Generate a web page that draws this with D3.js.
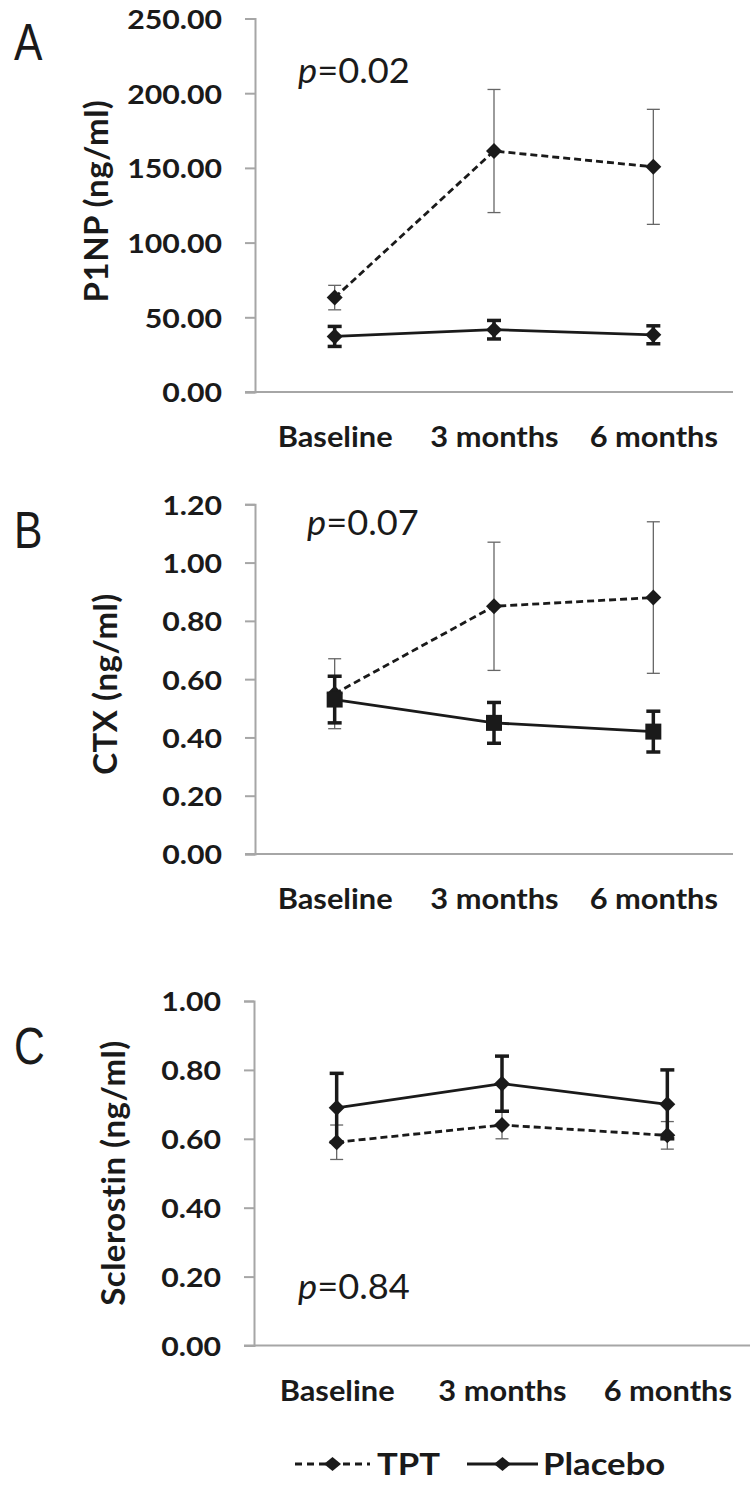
<!DOCTYPE html>
<html><head><meta charset="utf-8">
<script src="https://cdn.jsdelivr.net/npm/d3@7"></script>
<style>body{margin:0;background:#fff}svg{display:block}</style>
</head><body><svg id="c" width="750" height="1485"></svg>
<script>
// ---------- data ----------
const categories = ["Baseline", "3 months", "6 months"];
const seriesNames = ["TPT", "Placebo"];

const p1npTPT = [63.2, 161.3, 150.7];
const p1npTPTErr = [8.2, 41.2, 38.5];
const p1npPlacebo = [37.2, 41.7, 38.3];
const p1npPlaceboErr = [6.7, 6.2, 6.0];
const p1npTicks = [0, 50, 100, 150, 200, 250];

const ctxTPT = [0.55, 0.85, 0.88];
const ctxTPTErr = [0.12, 0.22, 0.26];
const ctxPlacebo = [0.53, 0.45, 0.42];
const ctxPlaceboErr = [0.08, 0.07, 0.07];
const ctxTicks = [0, 0.2, 0.4, 0.6, 0.8, 1.0, 1.2];

const sclTPT = [0.59, 0.64, 0.61];
const sclTPTErr = [0.05, 0.04, 0.04];
const sclPlacebo = [0.69, 0.76, 0.70];
const sclPlaceboErr = [0.10, 0.08, 0.10];
const sclTicks = [0, 0.2, 0.4, 0.6, 0.8, 1.0];

const pValues = ["0.02", "0.07", "0.84"];
const panelLetters = ["A", "B", "C"];
const yTitles = ["P1NP (ng/ml)", "CTX (ng/ml)", "Sclerostin (ng/ml)"];

// ---------- layout ----------
const svg = d3.select("#c");
svg.append("rect").attr("width", 750).attr("height", 1485).attr("fill", "#fff");

const INK = "#1a1a1a";
const panels = [
  {tpt: p1npTPT, tptE: p1npTPTErr, pla: p1npPlacebo, plaE: p1npPlaceboErr, ticks: p1npTicks,
   x0: 255, x1: 733, yTop: 18.5, yBot: 392, placeboShape: "diamond",
   letter: {x: 14, y: 60}, p: {x: 298, y: 83}, title: {x: 108, y: 201}},
  {tpt: ctxTPT, tptE: ctxTPTErr, pla: ctxPlacebo, plaE: ctxPlaceboErr, ticks: ctxTicks,
   x0: 255, x1: 733, yTop: 504.3, yBot: 854, placeboShape: "square",
   letter: {x: 14, y: 548}, p: {x: 307, y: 535}, title: {x: 117, y: 684}},
  {tpt: sclTPT, tptE: sclTPTErr, pla: sclPlacebo, plaE: sclPlaceboErr, ticks: sclTicks,
   x0: 254, x1: 750, yTop: 1001, yBot: 1345.5, placeboShape: "diamond",
   letter: {x: 14, y: 1064}, p: {x: 298, y: 1299}, title: {x: 125, y: 1173}}
];

function diamondPath(cx, cy, w, h) {
  return `M${cx},${cy - h / 2}L${cx + w / 2},${cy}L${cx},${cy + h / 2}L${cx - w / 2},${cy}Z`;
}

panels.forEach((P, i) => {
  const g = svg.append("g");
  const x = d3.scalePoint().domain(categories).range([P.x0, P.x1]).padding(0.5);
  const y = d3.scaleLinear().domain([0, d3.max(P.ticks)]).range([P.yBot, P.yTop]);

  // y axis
  const TS = 1.1;
  const yAx = g.append("g").attr("transform", `translate(${P.x0},0)`)
    .call(d3.axisLeft(y).tickValues(P.ticks).tickFormat(d3.format(".2f")).tickSize(10).tickPadding(0));
  yAx.select(".domain").attr("stroke", "#a6a6a6").attr("stroke-width", 2);
  yAx.selectAll(".tick line").attr("stroke", "#a6a6a6").attr("stroke-width", 2);
  yAx.selectAll(".tick text")
    .attr("x", -33 / TS).attr("dy", "0.36em")
    .attr("transform", `scale(${TS},1)`)
    .attr("font-family", "Lato").attr("font-weight", 700).attr("font-size", 27.5)
    .attr("fill", INK);

  // x axis
  const CS = 1.08;
  const xAx = g.append("g").attr("transform", `translate(0,${P.yBot})`)
    .call(d3.axisBottom(x).tickSize(0).tickPadding(0));
  xAx.select(".domain").attr("stroke", "#a6a6a6").attr("stroke-width", 2)
    .attr("d", `M${P.x0 - 10},0H${P.x1}`);
  xAx.selectAll(".tick text")
    .attr("y", 0).attr("dy", 0)
    .attr("transform", `translate(0,55) scale(${CS},1)`)
    .attr("font-family", "Lato").attr("font-weight", 700).attr("font-size", 28.5)
    .attr("fill", INK);

  // y title
  g.append("text")
    .attr("transform", `translate(${P.title.x},${P.title.y}) rotate(-90)`)
    .attr("text-anchor", "middle")
    .attr("font-family", "Lato").attr("font-weight", 700).attr("font-size", 33)
    .attr("letter-spacing", 0.5)
    .attr("fill", INK)
    .text(yTitles[i]);

  // panel letter
  g.append("text").attr("transform", `translate(${P.letter.x},${P.letter.y}) scale(0.82,1)`)
    .attr("font-family", "Liberation Sans").attr("font-size", 52).attr("fill", INK)
    .text(panelLetters[i]);

  // p value
  const pt = g.append("text").attr("transform", `translate(${P.p.x},${P.p.y}) scale(1.05,1)`)
    .attr("font-family", "Lato").attr("font-size", 34.5).attr("fill", INK);
  pt.append("tspan").attr("font-style", "italic").text("p");
  pt.append("tspan").text("=" + pValues[i]);

  const line = d3.line().x((d, k) => x(categories[k])).y(d => y(d));

  // TPT error bars (thin)
  const tg = g.append("g");
  P.tpt.forEach((v, k) => {
    const cx = x(categories[k]);
    const hi = y(v + P.tptE[k]), lo = y(v - P.tptE[k]);
    tg.append("line").attr("x1", cx).attr("x2", cx).attr("y1", hi).attr("y2", lo)
      .attr("stroke", "#666").attr("stroke-width", 1.3);
    [hi, lo].forEach(yy => tg.append("line").attr("x1", cx - 6.5).attr("x2", cx + 6.5)
      .attr("y1", yy).attr("y2", yy).attr("stroke", "#666").attr("stroke-width", 1.3));
  });
  // TPT line (dashed) + markers
  g.append("path").datum(P.tpt).attr("d", line).attr("fill", "none")
    .attr("stroke", INK).attr("stroke-width", 2.8).attr("stroke-dasharray", "7,4");
  g.selectAll(null).data(P.tpt).join("path")
    .attr("d", (d, k) => diamondPath(x(categories[k]), y(d), 16, 16))
    .attr("fill", INK);

  // Placebo error bars (thick)
  const pg = g.append("g");
  P.pla.forEach((v, k) => {
    const cx = x(categories[k]);
    const hi = y(v + P.plaE[k]), lo = y(v - P.plaE[k]);
    pg.append("line").attr("x1", cx).attr("x2", cx).attr("y1", hi).attr("y2", lo)
      .attr("stroke", INK).attr("stroke-width", 3.5);
    [hi, lo].forEach(yy => pg.append("line").attr("x1", cx - 7).attr("x2", cx + 7)
      .attr("y1", yy).attr("y2", yy).attr("stroke", INK).attr("stroke-width", 3.5));
  });
  g.append("path").datum(P.pla).attr("d", line).attr("fill", "none")
    .attr("stroke", INK).attr("stroke-width", 2.8);
  g.selectAll(null).data(P.pla).join("path")
    .attr("d", (d, k) => {
      const cx = x(categories[k]), cy = y(d);
      return P.placeboShape === "square"
        ? `M${cx - 8},${cy - 8}h16v16h-16Z`
        : diamondPath(cx, cy, 16, 16);
    })
    .attr("fill", INK);
});

// ---------- legend ----------
const legY = 1464;
const legend = svg.append("g");
const legItems = [
  {name: seriesNames[0], x0: 295, x1: 370, dash: "7,5", tx: 377},
  {name: seriesNames[1], x0: 467, x1: 538, dash: null, tx: 543}
];
legItems.forEach(it => {
  legend.append("line").attr("x1", it.x0).attr("x2", it.x1).attr("y1", legY).attr("y2", legY)
    .attr("stroke", INK).attr("stroke-width", 2.8)
    .attr("stroke-dasharray", it.dash);
  legend.append("path").attr("d", diamondPath((it.x0 + it.x1) / 2, legY, 17, 14)).attr("fill", INK);
  legend.append("text").attr("transform", `translate(${it.tx},${legY + 11}) scale(1.12,1)`)
    .attr("font-family", "Lato").attr("font-weight", 700).attr("font-size", 31)
    .attr("fill", INK).text(it.name);
});
</script>
</body></html>
